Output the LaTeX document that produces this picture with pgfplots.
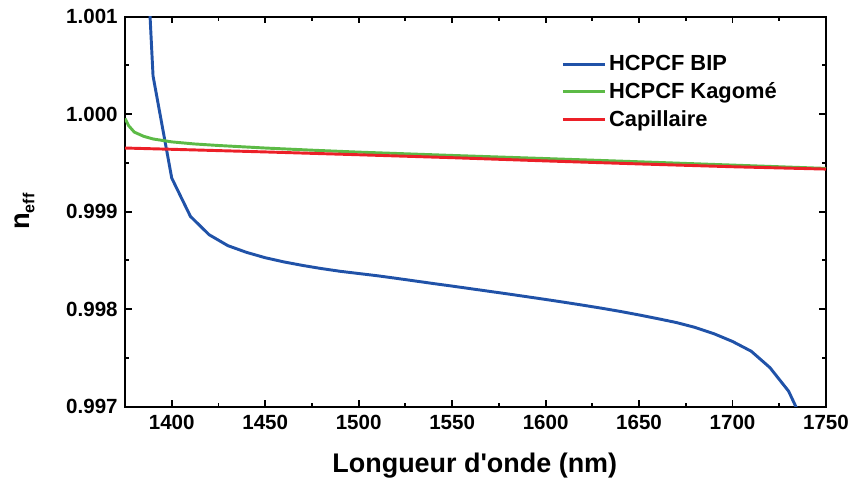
\documentclass[border=0pt]{standalone}
\usepackage{pgfplots}
\pgfplotsset{compat=1.18}
\usepackage{fontspec}
\setmainfont{Liberation Sans}
\newfontfamily\labfont{Liberation Sans}[Ligatures=ResetAll]
\definecolor{cblue}{RGB}{32,82,168}
\definecolor{cgreen}{RGB}{92,186,70}
\definecolor{cred}{RGB}{236,32,40}
\begin{document}
\begin{tikzpicture}
\useasboundingbox (-93.75pt,-59.25pt) rectangle (546.75pt,304.95pt);
\begin{axis}[
  scale only axis,
  width=525.75pt, height=292.5pt,
  xmin=1375, xmax=1750, ymin=0.997, ymax=1.001,
  axis line style={line width=1.6pt},
  every tick/.style={line width=1.4pt, black},
  tick align=inside,
  major tick length=5pt, minor tick length=3pt,
  xtick={1400,1450,1500,1550,1600,1650,1700,1750},
  xticklabels={1400,1450,1500,1550,1600,1650,1700,1750},
  minor xtick={1425,1475,1525,1575,1625,1675,1725},
  ytick={0.997,0.998,0.999,1.000,1.001},
  yticklabels={0.997,0.998,0.999,1.000,1.001},
  minor ytick={0.9975,0.9985,0.9995,1.0005},
  ticklabel style={font=\bfseries\fontsize{15.4}{17}\selectfont},
  xticklabel style={yshift=-3pt},
  yticklabel style={xshift=-2pt},
  scaled y ticks=false,
  xlabel={Longueur d'onde (nm)},
  xlabel style={font=\labfont\bfseries\fontsize{20.2}{24}\selectfont, at={(axis description cs:0.499,-0.152)}, anchor=center},
  ylabel={{\fontsize{20.5}{24}\selectfont n}\raisebox{-3.5pt}{\fontsize{12}{14}\selectfont eff}},
  ylabel style={font=\bfseries, at={(axis description cs:-0.143,0.5)}, anchor=center},
  clip=true,
  legend style={draw=none, fill=none, at={(axis description cs:0.6185,0.9145)}, anchor=north west,
    font=\bfseries\fontsize{16.4}{19}\selectfont, row sep=3.5pt, inner sep=2pt},
  legend cell align=left,
  legend image code/.code={\draw[#1] (0pt,0pt) -- (31.5pt,0pt);},
]
\addplot[cblue, line width=2.2pt] coordinates {
(1380,1.00422) (1390,1.000392) (1400,0.999344) (1410,0.998951) (1420,0.998763)
(1430,0.998651) (1440,0.998582) (1450,0.998527) (1460,0.998484) (1470,0.998448)
(1480,0.998416) (1490,0.998388) (1500,0.998365) (1510,0.998342) (1520,0.998316)
(1530,0.998289) (1540,0.998262) (1550,0.998236) (1560,0.998209) (1570,0.998182)
(1580,0.998155) (1590,0.998127) (1600,0.998099) (1610,0.998070) (1620,0.998040)
(1630,0.998009) (1640,0.997976) (1650,0.997940) (1660,0.997902) (1670,0.997862)
(1680,0.997812) (1690,0.997748) (1700,0.997668) (1710,0.997568) (1720,0.997400)
(1730,0.997158) (1740,0.996750)
};
\addlegendentry{HCPCF BIP}
\addplot[cgreen, line width=2.2pt] coordinates {
(1375,0.999955) (1377,0.999880) (1380,0.999815) (1385,0.999772) (1390,0.999745)
(1400,0.999715) (1412,0.999694) (1425,0.999678) (1450,0.999652) (1475,0.999630)
(1500,0.999610) (1550,0.999576) (1600,0.999544) (1650,0.999511) (1700,0.999477)
(1750,0.999443)
};
\addlegendentry{HCPCF Kagomé}
\addplot[cred, line width=2.2pt] coordinates {
(1375,0.999652) (1400,0.999639) (1450,0.999612) (1500,0.999583) (1550,0.999553)
(1600,0.999520) (1650,0.999489) (1700,0.999460) (1750,0.999436)
};
\addlegendentry{Capillaire}
\end{axis}
\end{tikzpicture}
\end{document}
